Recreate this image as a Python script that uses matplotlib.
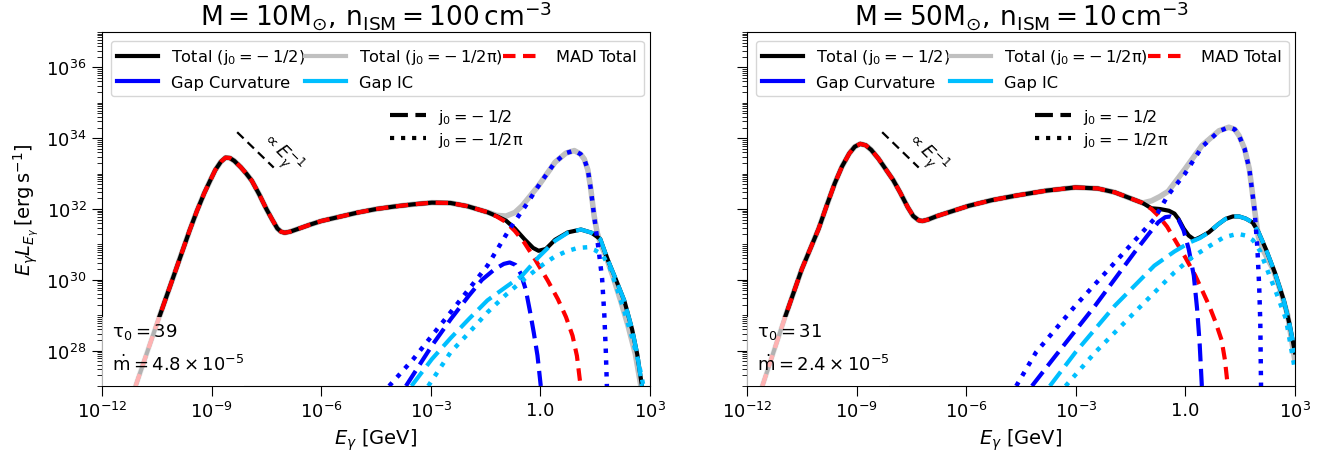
import numpy as np
import matplotlib
matplotlib.use("Agg")
import matplotlib.pyplot as plt
from matplotlib.lines import Line2D
from matplotlib.patches import Rectangle
from matplotlib.ticker import FixedLocator, NullLocator, LogLocator, NullFormatter

# Spectra are tabulated as log10(E / GeV) and log10(E L_E / erg s^-1)

# ---------- M = 10 Msun, n_ISM = 100 cm^-3 ----------
a_mad_x = [-11.08, -10.5, -10.0, -9.6, -9.4, -9.2, -9.05, -8.9, -8.75, -8.62, -8.5,
           -8.38, -8.2, -8.05, -7.9, -7.7, -7.5, -7.33, -7.2, -7.1, -7.0, -6.85, -6.6,
           -6.3, -6.0, -5.5, -5.0, -4.49, -4.0, -3.5, -2.97, -2.46, -2.0, -1.45, -1.2,
           -0.94, -0.7, -0.44, -0.13, 0.2, 0.48, 0.7, 0.88, 1.0, 1.10]
a_mad_y = [27.0, 28.75, 30.22, 31.4, 31.95, 32.45, 32.78, 33.1, 33.33, 33.45, 33.44,
           33.36, 33.18, 33.0, 32.8, 32.42, 32.0, 31.68, 31.45, 31.36, 31.33, 31.36, 31.45,
           31.56, 31.66, 31.78, 31.9, 32.0, 32.07, 32.13, 32.18, 32.17, 32.08, 31.91, 31.79,
           31.63, 31.38, 31.05, 30.55, 29.98, 29.45, 28.95, 28.42, 27.85, 27.0]

a_tot_x = [-11.08, -10.5, -10.0, -9.6, -9.4, -9.2, -9.05, -8.9, -8.75, -8.62, -8.5,
           -8.38, -8.2, -8.05, -7.9, -7.7, -7.5, -7.33, -7.2, -7.1, -7.0, -6.85, -6.6,
           -6.3, -6.0, -5.5, -5.0, -4.49, -4.0, -3.5, -2.97, -2.46, -2.0, -1.45, -1.2,
           -0.94, -0.7, -0.44, -0.2, -0.05, 0.15, 0.4, 0.75, 1.11, 1.4, 1.64, 1.83, 2.05,
           2.3, 2.51, 2.65, 2.78]
a_tot_y = [27.0, 28.75, 30.22, 31.4, 31.95, 32.45, 32.78, 33.1, 33.33, 33.45, 33.44,
           33.36, 33.18, 33.0, 32.8, 32.42, 32.0, 31.68, 31.45, 31.36, 31.33, 31.36, 31.45,
           31.56, 31.66, 31.78, 31.9, 32.0, 32.07, 32.13, 32.18, 32.17, 32.08, 31.91, 31.8,
           31.67, 31.45, 31.15, 30.9, 30.82, 30.87, 31.13, 31.34, 31.42, 31.33, 31.15, 30.6,
           30.05, 29.4, 28.6, 27.9, 27.0]

a_totpi_x = [-11.08, -10.5, -10.0, -9.6, -9.4, -9.2, -9.05, -8.9, -8.75, -8.62, -8.5,
             -8.38, -8.2, -8.05, -7.9, -7.7, -7.5, -7.33, -7.2, -7.1, -7.0, -6.85, -6.6,
             -6.3, -6.0, -5.5, -5.0, -4.49, -4.0, -3.5, -2.97, -2.46, -2.0, -1.45, -1.2,
             -0.94, -0.7, -0.5, -0.05, 0.4, 0.7, 0.93, 1.1, 1.2, 1.3, 1.38, 1.47, 1.55,
             1.65, 1.8, 2.0, 2.2, 2.4, 2.6, 2.75]
a_totpi_y = [27.0, 28.75, 30.22, 31.4, 31.95, 32.45, 32.78, 33.1, 33.33, 33.45, 33.44,
             33.36, 33.18, 33.0, 32.8, 32.42, 32.0, 31.68, 31.45, 31.36, 31.33, 31.36, 31.45,
             31.56, 31.66, 31.78, 31.9, 32.0, 32.07, 32.13, 32.18, 32.17, 32.08, 31.91, 31.82,
             31.8, 31.9, 32.09, 32.66, 33.32, 33.58, 33.65, 33.55, 33.41, 33.1, 32.56, 31.81,
             31.35, 31.0, 30.65, 30.05, 29.4, 28.7, 27.9, 27.0]

a_curv_x = [-3.68, -2.97, -2.46, -1.96, -1.6, -1.25, -1.0, -0.84, -0.68, -0.54, -0.4,
            -0.28, -0.18, -0.08, 0.01]
a_curv_y = [27.0, 28.14, 28.88, 29.55, 30.0, 30.3, 30.45, 30.49, 30.42, 30.18, 29.72,
            29.08, 28.5, 27.86, 27.0]

a_curvpi_x = [-4.14, -3.48, -2.46, -1.45, -0.84, -0.34, -0.05, 0.4, 0.7, 0.93, 1.1,
              1.2, 1.3, 1.38, 1.47, 1.6, 1.69, 1.75, 1.79, 1.82]
a_curvpi_y = [27.0, 27.76, 29.08, 30.4, 31.44, 32.19, 32.66, 33.32, 33.58, 33.65, 33.55,
              33.41, 33.1, 32.56, 31.81, 30.8, 30.02, 29.0, 28.0, 27.0]

a_ic_x = [-3.53, -2.97, -2.46, -1.96, -1.45, -0.94, -0.5, -0.05, 0.4, 0.75, 1.11,
          1.4, 1.64, 1.83, 2.05, 2.3, 2.51, 2.65, 2.78]
a_ic_y = [27.0, 27.76, 28.35, 28.89, 29.42, 29.8, 30.12, 30.64, 31.1, 31.33, 31.42,
          31.33, 31.15, 30.6, 30.05, 29.4, 28.6, 27.9, 27.0]

a_icpi_x = [-3.07, -2.46, -1.96, -1.45, -0.94, -0.44, 0.0, 0.37, 0.7, 1.02, 1.29,
            1.47, 1.69, 1.9, 2.1, 2.3, 2.51, 2.68, 2.82]
a_icpi_y = [27.0, 27.95, 28.5, 29.08, 29.58, 30.02, 30.38, 30.64, 30.8, 30.9, 30.92,
            30.85, 30.72, 30.35, 29.74, 29.1, 28.37, 27.7, 27.0]

# ---------- M = 50 Msun, n_ISM = 10 cm^-3 ----------
b_mad_x = [-11.58, -10.96, -10.5, -10.04, -9.8, -9.6, -9.4, -9.2, -9.05, -8.9, -8.75,
           -8.6, -8.4, -8.2, -8.0, -7.81, -7.6, -7.45, -7.3, -7.2, -7.05, -6.8, -6.5,
           -5.93, -5.3, -4.63, -3.8, -3.01, -2.4, -1.93, -1.5, -1.17, -0.93, -0.74, -0.5,
           -0.3, 0.0, 0.27, 0.45, 0.65, 0.82, 0.99, 1.08, 1.16]
b_mad_y = [27.0, 28.94, 30.3, 31.44, 32.15, 32.72, 33.2, 33.57, 33.76, 33.84, 33.8,
           33.67, 33.42, 33.12, 32.82, 32.47, 32.05, 31.8, 31.68, 31.66, 31.7, 31.8, 31.9,
           32.09, 32.25, 32.38, 32.52, 32.61, 32.58, 32.47, 32.3, 32.17, 32.0, 31.81, 31.5,
           31.15, 30.63, 30.12, 29.72, 29.27, 28.82, 28.3, 27.75, 27.0]

b_tot_x = [-11.58, -10.96, -10.5, -10.04, -9.8, -9.6, -9.4, -9.2, -9.05, -8.9, -8.75,
           -8.6, -8.4, -8.2, -8.0, -7.81, -7.6, -7.45, -7.3, -7.2, -7.05, -6.8, -6.5,
           -5.93, -5.3, -4.63, -3.8, -3.01, -2.4, -1.93, -1.5, -1.17, -0.93, -0.7, -0.45,
           -0.3, -0.19, -0.05, 0.09, 0.25, 0.4, 0.64, 0.9, 1.1, 1.3, 1.47, 1.65, 1.84,
           2.0, 2.21, 2.45, 2.7, 2.85, 3.0]
b_tot_y = [27.0, 28.94, 30.3, 31.44, 32.15, 32.72, 33.2, 33.57, 33.76, 33.84, 33.8,
           33.67, 33.42, 33.12, 32.82, 32.47, 32.05, 31.8, 31.68, 31.66, 31.7, 31.8, 31.9,
           32.09, 32.25, 32.38, 32.52, 32.61, 32.58, 32.47, 32.3, 32.17, 32.02, 32.0, 31.95,
           31.87, 31.72, 31.45, 31.25, 31.13, 31.2, 31.34, 31.57, 31.72, 31.79, 31.79, 31.73,
           31.62, 31.35, 30.85, 30.2, 29.4, 28.75, 27.95]

b_totpi_x = [-11.58, -10.96, -10.5, -10.04, -9.8, -9.6, -9.4, -9.2, -9.05, -8.9, -8.75,
             -8.6, -8.4, -8.2, -8.0, -7.81, -7.6, -7.45, -7.3, -7.2, -7.05, -6.8, -6.5,
             -5.93, -5.3, -4.63, -3.8, -3.01, -2.4, -1.93, -1.5, -1.17, -0.93, -0.7, -0.47,
             -0.01, 0.45, 0.92, 1.19, 1.35, 1.47, 1.62, 1.75, 1.89, 2.0, 2.12, 2.4, 2.6,
             2.8, 3.0]
b_totpi_y = [27.0, 28.94, 30.3, 31.44, 32.15, 32.72, 33.2, 33.57, 33.76, 33.84, 33.8,
             33.67, 33.42, 33.12, 32.82, 32.47, 32.05, 31.8, 31.68, 31.66, 31.7, 31.8, 31.9,
             32.09, 32.25, 32.38, 32.52, 32.61, 32.58, 32.47, 32.3, 32.17, 32.23, 32.35, 32.5,
             33.13, 33.79, 34.21, 34.31, 34.25, 34.07, 33.7, 33.13, 32.0, 31.2, 30.85, 30.3,
             29.7, 29.0, 27.7]

b_curv_x = [-4.2, -3.55, -2.47, -1.39, -1.0, -0.74, -0.55, -0.4, -0.19, -0.05, 0.09,
            0.23, 0.32, 0.39, 0.45]
b_curv_y = [27.0, 27.86, 29.27, 30.78, 31.3, 31.63, 31.77, 31.79, 31.7, 31.4, 30.87,
            30.12, 29.18, 28.2, 27.0]

b_curvpi_x = [-4.63, -4.09, -3.01, -1.93, -0.85, -0.47, -0.01, 0.45, 0.92, 1.19, 1.35,
              1.47, 1.62, 1.75, 1.89, 1.97, 2.02, 2.05, 2.07]
b_curvpi_y = [27.0, 27.95, 29.27, 30.49, 31.72, 32.4, 33.0, 33.75, 34.2, 34.31, 34.25,
              34.07, 33.7, 33.13, 32.0, 30.9, 29.8, 28.8, 27.0]

b_ic_x = [-3.71, -3.01, -1.93, -0.85, -0.3, 0.13, 0.4, 0.64, 0.9, 1.1, 1.3, 1.47, 1.65,
          1.84, 2.0, 2.21, 2.45, 2.7, 2.85, 3.0]
b_ic_y = [27.0, 27.95, 29.27, 30.4, 30.8, 31.06, 31.18, 31.34, 31.57, 31.72, 31.79, 31.79,
          31.73, 31.62, 31.35, 30.85, 30.2, 29.4, 28.75, 27.95]

b_icpi_x = [-3.28, -2.47, -1.39, -0.3, 0.2, 0.67, 1.05, 1.43, 1.65, 1.85, 2.05, 2.29,
            2.5, 2.75, 3.0]
b_icpi_y = [27.0, 27.95, 29.08, 30.21, 30.65, 30.96, 31.2, 31.3, 31.25, 31.12, 30.8, 30.15,
            29.6, 28.9, 27.45]

panels = [
    dict(title=r"$\mathrm{M = 10M_{\odot},\, n_{ISM} = 100\,cm^{-3}}$",
         tau=r"$\mathrm{\tau_0 = 39}$", mdot=r"$\mathrm{\dot{m} = 4.8\times10^{-5}}$",
         mad=(a_mad_x, a_mad_y), tot=(a_tot_x, a_tot_y), totpi=(a_totpi_x, a_totpi_y),
         curv=(a_curv_x, a_curv_y), curvpi=(a_curvpi_x, a_curvpi_y),
         ic=(a_ic_x, a_ic_y), icpi=(a_icpi_x, a_icpi_y)),
    dict(title=r"$\mathrm{M = 50M_{\odot},\, n_{ISM} = 10\,cm^{-3}}$",
         tau=r"$\mathrm{\tau_0 = 31}$", mdot=r"$\mathrm{\dot{m} = 2.4\times10^{-5}}$",
         mad=(b_mad_x, b_mad_y), tot=(b_tot_x, b_tot_y), totpi=(b_totpi_x, b_totpi_y),
         curv=(b_curv_x, b_curv_y), curvpi=(b_curvpi_x, b_curvpi_y),
         ic=(b_ic_x, b_ic_y), icpi=(b_icpi_x, b_icpi_y)),
]

# E^-1 guide segment (log10 E, log10 EL_E)
guide_x = [-8.3, -7.3]
guide_y = [34.17, 33.17]

xtick_vals = [1e-12, 1e-9, 1e-6, 1e-3, 1.0, 1e3]
xtick_labels = [r"$10^{-12}$", r"$10^{-9}$", r"$10^{-6}$", r"$10^{-3}$", "1.0", r"$10^{3}$"]
ytick_vals = [1e28, 1e30, 1e32, 1e34, 1e36]
ytick_labels = [r"$10^{28}$", r"$10^{30}$", r"$10^{32}$", r"$10^{34}$", r"$10^{36}$"]

C_BLUE = "#0000ff"
C_CYAN = "#00bfff"
C_GRAY = "#c0c0c0"

fig = plt.figure(figsize=(13.31, 4.56), dpi=100)
W, H = 1331.0, 456.0
ax_lefts = [102, 747]


def pw(xs, ys):
    return 10.0 ** np.asarray(xs), 10.0 ** np.asarray(ys)


for i, p in enumerate(panels):
    ax = fig.add_axes([ax_lefts[i] / W, 69 / H, 548 / W, 354 / H])
    ax.set_xscale("log")
    ax.set_yscale("log")

    ax.plot(*pw(*p["totpi"]), color=C_GRAY, lw=4.0, zorder=2)
    ax.plot(*pw(*p["tot"]), color="black", lw=3.0, zorder=3)
    ax.plot(*pw(*p["mad"]), color="red", lw=3.0, dashes=(3.0, 1.8), zorder=4)
    ax.plot(*pw(*p["curv"]), color=C_BLUE, lw=3.0, dashes=(4.3, 1.8), zorder=5)
    ax.plot(*pw(*p["ic"]), color=C_CYAN, lw=3.0, dashes=(4.3, 1.8), zorder=5)
    ax.plot(*pw(*p["curvpi"]), color=C_BLUE, lw=3.2, ls=":", zorder=6)
    ax.plot(*pw(*p["icpi"]), color=C_CYAN, lw=3.2, ls=":", zorder=6)

    # E^-1 guide
    ax.plot(*pw(guide_x, guide_y), color="black", lw=1.6, dashes=(4, 2.5), zorder=6)
    ax.text(10 ** -7.1, 10 ** 33.62, r"$\propto E_\gamma^{-1}$", rotation=-45,
            ha="center", va="center", fontsize=12.5, zorder=7)

    ax.set_xlim(1e-12, 1e3)
    ax.set_ylim(1e27, 1e37)
    ax.xaxis.set_major_locator(FixedLocator(xtick_vals))
    ax.xaxis.set_minor_locator(NullLocator())
    ax.set_xticklabels(xtick_labels)
    ax.yaxis.set_major_locator(FixedLocator(ytick_vals))
    ax.yaxis.set_minor_locator(LogLocator(base=10, subs=np.arange(1, 10), numticks=100))
    ax.yaxis.set_minor_formatter(NullFormatter())
    ax.set_yticklabels(ytick_labels)
    ax.tick_params(axis="both", which="major", labelsize=13, length=7.5)
    ax.tick_params(axis="both", which="minor", length=3.5)
    if i == 1:
        ax.tick_params(axis="y", which="both", labelleft=False)

    ax.set_xlabel(r"$E_\gamma$ [GeV]", fontsize=14)
    if i == 0:
        ax.set_ylabel(r"$E_\gamma L_{E_\gamma}\,\mathrm{[erg\,s^{-1}]}$", fontsize=14)
    ax.set_title(p["title"], fontsize=19, pad=5)

    # parameter box
    ax.add_patch(Rectangle((0, 0), 0.26, 0.195, transform=ax.transAxes,
                           facecolor="white", edgecolor="none", alpha=0.7, zorder=8))
    ax.text(0.018, 0.156, p["tau"], transform=ax.transAxes, fontsize=13,
            va="center", ha="left", zorder=9)
    ax.text(0.018, 0.062, p["mdot"], transform=ax.transAxes, fontsize=13,
            va="center", ha="left", zorder=9)

    handles = [
        Line2D([], [], color="black", lw=3),
        Line2D([], [], color=C_BLUE, lw=3),
        Line2D([], [], color=C_GRAY, lw=3),
        Line2D([], [], color=C_CYAN, lw=3),
        Line2D([], [], color="red", lw=3, dashes=(3.0, 1.8)),
    ]
    labels = [r"Total ($\mathrm{j_0 = -\:1/2}$)", "Gap Curvature",
              r"Total ($\mathrm{j_0 = -\:1/2\pi}$)", "Gap IC", "MAD Total"]
    leg = ax.legend(handles, labels, loc="upper left", ncol=3, fontsize=11.7,
                    handlelength=2.5, columnspacing=0.0, handletextpad=0.8,
                    borderaxespad=0.55)
    ax.add_artist(leg)

    style_handles = [
        Line2D([], [], color="black", lw=3, dashes=(4.3, 1.8)),
        Line2D([], [], color="black", lw=3, ls=":"),
    ]
    style_labels = [r"$\mathrm{j_0 = -\:1/2}$", r"$\mathrm{j_0 = -\:1/2\pi}$"]
    ax.legend(style_handles, style_labels, loc="upper left",
              bbox_to_anchor=(0.50, 0.83), frameon=False, fontsize=11.5,
              handlelength=2.2, handletextpad=0.8, labelspacing=0.25)

fig.savefig("out.png", dpi=100)
